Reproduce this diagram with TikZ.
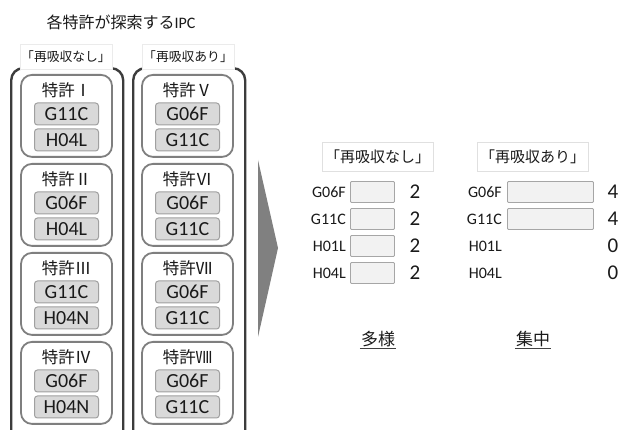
\documentclass[tikz,border=0pt]{standalone}
\usepackage{fontspec}
\setmainfont{Carlito}
\newfontfamily\jp{Noto Sans CJK JP}
\definecolor{frameC}{HTML}{3C3C3C}
\definecolor{patC}{HTML}{7F7F7F}
\definecolor{codeFill}{HTML}{D9D9D9}
\definecolor{codeLine}{HTML}{A0A0A0}
\definecolor{barFill}{HTML}{F2F2F2}
\definecolor{barLine}{HTML}{A6A6A6}
\definecolor{arrowC}{HTML}{808080}
\definecolor{txtC}{HTML}{1A1A1A}
\begin{document}
\begin{tikzpicture}[x=1pt,y=-1pt,
  every node/.style={text=txtC},
  outerframe/.style={draw=frameC,line width=2.4pt,rounded corners=12pt,inner sep=0pt},
  patentbox/.style={draw=patC,line width=1.8pt,rounded corners=11pt,fill=white,inner sep=0pt,minimum width=91pt,minimum height=82pt},
  pattitle/.style={font=\jp\fontsize{16.5}{17}\selectfont,inner sep=0pt},
  codebox/.style={draw=codeLine,fill=codeFill,line width=1pt,rounded corners=3pt,minimum width=64pt,minimum height=22pt,inner sep=0pt,font=\fontsize{20}{20}\selectfont},
  grouplabel/.style={fill=white,draw=black!8,line width=0.6pt,inner sep=0pt,minimum width=92pt,minimum height=25pt,font=\jp\fontsize{12.8}{13}\selectfont},
  tabletitle/.style={fill=white,draw=black!12,line width=0.6pt,inner sep=0pt,minimum width=111pt,minimum height=29pt,font=\jp\fontsize{15}{15}\selectfont},
  rowlabel/.style={font=\fontsize{16}{16}\selectfont,inner sep=0pt,anchor=east},
  barbox/.style={draw=barLine,fill=barFill,line width=0.9pt,rounded corners=1pt,minimum height=21pt,inner sep=0pt,anchor=west},
  numlabel/.style={font=\fontsize{21}{21}\selectfont,inner sep=0pt},
  verdict/.style={font=\jp\fontsize{17}{17}\selectfont,inner sep=1pt},
  uline/.style={draw=black!75,line width=0.9pt}
]
\clip (0,0) rectangle (622,430);
\fill[white] (0,0) rectangle (622,430);

% title
\node[font=\fontsize{16}{16}\selectfont,inner sep=0pt] (title) at (121,22) {{\jp 各特許が探索する}IPC};

% outer frames
\node[outerframe,minimum width=112pt,minimum height=376pt,anchor=north west] (frameL) at (10,67) {};
\node[outerframe,minimum width=112pt,minimum height=376pt,anchor=north west] (frameR) at (132,67) {};

% group labels
\node[grouplabel] (gL) at (66,57) {「再吸収なし」};
\node[grouplabel] (gR) at (188,57) {「再吸収あり」};

% patents, left column
\foreach \num/\ca/\cb [count=\i from 0] in {Ⅰ/G11C/H04L, Ⅱ/G06F/H04L, Ⅲ/G11C/H04N, Ⅳ/G06F/H04N}{
  \pgfmathsetmacro\ty{90+89*\i}
  \node[patentbox,anchor=north] (pL\i) at (66.5,\ty-16) {};
  \node[pattitle] (tL\i) at (66.5,\ty) {特許\num};
  \node[codebox] (cL\i a) at (66.5,\ty+24) {\ca};
  \node[codebox] (cL\i b) at (66.5,\ty+50) {\cb};
}
% patents, right column
\foreach \num/\ca/\cb [count=\i from 0] in {Ⅴ/G06F/G11C, Ⅵ/G06F/G11C, Ⅶ/G06F/G11C, Ⅷ/G06F/G11C}{
  \pgfmathsetmacro\ty{90+89*\i}
  \node[patentbox,anchor=north] (pR\i) at (187.5,\ty-16) {};
  \node[pattitle] (tR\i) at (187.5,\ty) {特許\num};
  \node[codebox] (cR\i a) at (187.5,\ty+24) {\ca};
  \node[codebox] (cR\i b) at (187.5,\ty+50) {\cb};
}

% arrow
\fill[arrowC] (258,160) -- (278,248) -- (258,337) -- cycle;

% table titles
\node[tabletitle] (ttA) at (377.5,156.5) {「再吸収なし」};
\node[tabletitle] (ttB) at (532.5,156.5) {「再吸収あり」};

% rows
\foreach \code/\y/\nb [count=\i] in {G06F/192/4, G11C/219/4, H01L/246/0, H04L/273/0}{
  \node[rowlabel] (lA\i) at (346,\y) {\code};
  \node[barbox,minimum width=44pt] (bA\i) at (350,\y) {};
  \node[numlabel] (nA\i) at (415,\y) {2};
  \node[rowlabel] (lB\i) at (502,\y) {\code};
  \node[numlabel] (nB\i) at (613,\y) {\nb};
}
\node[barbox,minimum width=86pt] (bB1) at (507,192) {};
\node[barbox,minimum width=86pt] (bB2) at (507,219) {};

% verdicts
\node[verdict] (vA) at (378,339) {多様};
\node[verdict] (vB) at (533,339) {集中};
\draw[uline] (vA.south west) -- (vA.south east);
\draw[uline] (vB.south west) -- (vB.south east);
\end{tikzpicture}
\end{document}
